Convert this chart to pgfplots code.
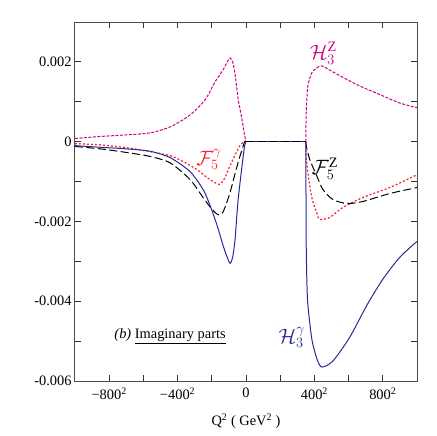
\documentclass[border=0pt]{standalone}
\usepackage{pgfplots}
\pgfplotsset{compat=1.18}
\usepackage{fontspec}
\setmainfont{Liberation Serif}

\definecolor{magC}{RGB}{204,0,128}
\definecolor{redC}{RGB}{250,30,40}
\definecolor{blueC}{RGB}{40,40,150}

\begin{document}
\begin{tikzpicture}[font=\fontsize{14.4}{17}\selectfont]
\useasboundingbox (-75pt,-55pt) rectangle (361pt,381pt);
\begin{axis}[
    scale only axis,
    width=342pt, height=359pt,
    xmin=-1000, xmax=1000,
    ymin=-0.006, ymax=0.003,
    scaled y ticks=false,
    xtick={-800,-600,...,800},
    xticklabels={−800\textsuperscript{2},,−400\textsuperscript{2},,0,,400\textsuperscript{2},,800\textsuperscript{2}},
    xticklabel style={yshift=-3pt},
    ytick={-0.006,-0.005,-0.004,-0.003,-0.002,-0.001,0,0.001,0.002},
    yticklabels={-0.006,,-0.004,,-0.002,,0,,0.002},
    tick align=inside,
    major tick length=6pt,
    tick style={line width=0.8pt, black!80},
    axis line style={line width=1pt, black!70},
    xlabel={Q\textsuperscript{2} ( GeV\textsuperscript{2} )},
    xlabel style={yshift=-7pt},
    hz/.style={magC, line width=1pt, dash pattern=on 3pt off 1.5pt},
    fg/.style={redC, line width=1.2pt, dash pattern=on 2pt off 2pt},
    fz/.style={black, line width=1pt, dash pattern=on 8pt off 3.5pt},
    hg/.style={blueC, line width=1pt},
    sm/.style={smooth, tension=0.45},
]
% flat part (below threshold, all curves vanish)
\addplot[fg] coordinates {(0,0) (350,0)};
\addplot[hz] coordinates {(0,0) (350,0)};
\addplot[hg] coordinates {(0,0) (350,0)};
\addplot[fz] coordinates {(0,0) (350,0)};
% H3^Z
\addplot[hz, sm] coordinates {
(-1000,0.00008) (-853,0.00013) (-700,0.00017) (-561,0.00022) (-444,0.00037)
(-327,0.00067) (-239,0.00105) (-181,0.0015) (-134,0.0018) (-110,0.002)
(-93,0.0021) (-78,0.002) (-64,0.0017) (-47,0.0011) (-23,0.00055) (-10,0.0002) (0,0)
};
\addplot[hz, sm] coordinates {
(350,0) (351,0.0005) (354,0.0009) (362,0.0014) (385,0.00173) (415,0.00185)
(444,0.0019) (508,0.00175) (648,0.00143) (783,0.00118) (899,0.00097) (1000,0.00085)
};
% F5^gamma
\addplot[fg, sm] coordinates {
(-1000,-0.00005) (-853,-0.00008) (-700,-0.00015) (-561,-0.00025) (-444,-0.00035)
(-368,-0.0005) (-286,-0.0007) (-228,-0.0009) (-180,-0.00103) (-152,-0.00107)
(-123,-0.0009) (-93,-0.0006) (-60,-0.0003) (-35,-0.0001) (-12,0) (0,0)
};
\addplot[fg, sm] coordinates {
(350,0) (351,-0.0003) (362,-0.00078) (385,-0.0014) (415,-0.0018) (432,-0.00195)
(490,-0.0019) (566,-0.00165) (683,-0.0014) (841,-0.00115) (1000,-0.00083)
};
% F5^Z
\addplot[fz, sm] coordinates {
(-1000,-0.00012) (-853,-0.00018) (-700,-0.00027) (-561,-0.00037) (-444,-0.00053)
(-327,-0.00095) (-251,-0.0014) (-198,-0.0017) (-163,-0.00183) (-140,-0.0018)
(-123,-0.00165) (-95,-0.0013) (-70,-0.0009) (-45,-0.0005) (-23,-0.0002) (-8,0) (0,0)
};
\addplot[fz, sm] coordinates {
(350,0) (352,-0.0001) (373,-0.00045) (415,-0.00087) (450,-0.0012) (508,-0.00145)
(590,-0.00155) (683,-0.0015) (841,-0.0013) (1000,-0.00115)
};
% H3^gamma
\addplot[hg, sm] coordinates {
(-1000,-0.0001) (-853,-0.00014) (-700,-0.00018) (-561,-0.00024) (-444,-0.0004)
(-327,-0.00075) (-251,-0.0012) (-210,-0.0016) (-169,-0.0021) (-134,-0.0026)
(-110,-0.0029) (-93,-0.00305) (-78,-0.0029) (-64,-0.00245) (-47,-0.0015)
(-23,-0.0006) (-8,-0.0001) (0,0)
};
\addplot[hg, sm] coordinates {
(350,0) (352,-0.0025) (356,-0.0035) (362,-0.0041) (385,-0.00495) (415,-0.00545)
(444,-0.00565) (508,-0.0055) (607,-0.0049) (707,-0.0041) (800,-0.00345)
(899,-0.0029) (1000,-0.0025)
};
\begin{scope}[font=\fontsize{20.74}{24}\selectfont]
\node[magC] at (axis cs:452,0.00222) {$\mathcal{H}_3^{\mathrm{Z}}$};
\node[redC] at (axis cs:-216,-0.00045) {$\mathcal{F}_5^{\gamma}$};
\node[black] at (axis cs:462,-0.00068) {$\mathcal{F}_5^{\mathrm{Z}}$};
\node[blueC] at (axis cs:268,-0.0049) {$\mathcal{H}_3^{\gamma}$};
\end{scope}
\node at (axis cs:-444,-0.00488) {\textit{(b)} \underline{Imaginary parts}};
\end{axis}
\end{tikzpicture}
\end{document}
